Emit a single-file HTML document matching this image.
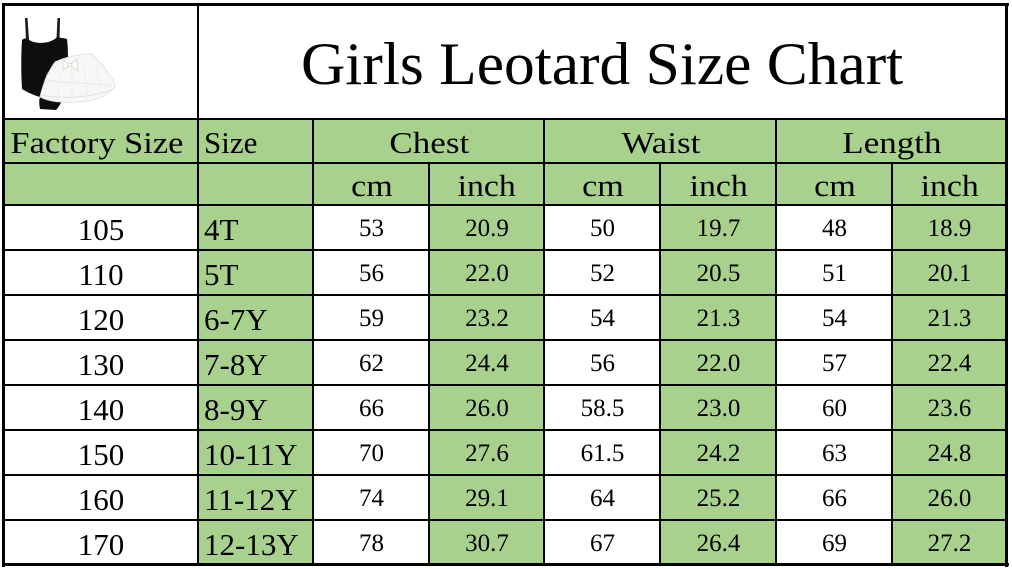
<!DOCTYPE html>
<html>
<head>
<meta charset="utf-8">
<style>
  html,body{margin:0;padding:0;background:#fff;}
  body{width:1012px;height:569px;position:relative;overflow:hidden;font-family:"Liberation Serif","DejaVu Serif",serif;color:#000;}
  .bg{position:absolute;background:#A9D18E;}
  .ln{position:absolute;background:#000;}
  .t{position:absolute;white-space:nowrap;text-align:center;}
  .t span{display:inline-block;}
  .big{font-size:31px;line-height:45px;height:45px;}
  .num{font-size:25px;line-height:45px;height:45px;}
  .hd{font-size:31px;}
</style>
</head>
<body>
<!-- green backgrounds -->
<div class="bg" style="left:3px;top:119px;width:1003px;height:86px;"></div>
<div class="bg" style="left:198px;top:205px;width:115px;height:360px;"></div>
<div class="bg" style="left:429px;top:205px;width:115px;height:360px;"></div>
<div class="bg" style="left:660px;top:205px;width:116px;height:360px;"></div>
<div class="bg" style="left:892px;top:205px;width:114px;height:360px;"></div>

<!-- image (leotard + tutu) -->
<svg style="position:absolute;left:0;top:0;" width="130" height="120" viewBox="0 0 130 120">
  <!-- straps -->
  <path d="M25,18 L27.5,18 L29,40 L26,40 Z" fill="#1a1a1a"/>
  <path d="M57.5,18 L60,18 L59.5,39 L56.5,39 Z" fill="#1a1a1a"/>
  <!-- leotard body -->
  <path d="M22,40 C24,38 27,38 28,39 C33,44 50,45 57,37 C61,38 64,38 67,39 C68,48 68,56 68,62 L62,100 C60,105 58,108 56,110 L40,109 C39,104 39,100 40,97 C33,95 27,92 22,89 C21,72 21,56 22,40 Z" fill="#0e0e0e"/>
  <!-- tutu -->
  <path d="M55,62 C65,57 80,54 92,54 C100,62 109,72 115,84 C115,87 114,89 112,90 C106,96 96,100 86,101 C78,102 70,103 62,102 C54,102 46,100 40,97 C42,88 45,80 47,75 C50,70 52,66 55,62 Z" fill="#f7f7f7" stroke="#dcdcdc" stroke-width="0.8"/>
  <path d="M47,80 C62,84 90,82 112,86" stroke="#e6e6e6" stroke-width="1" fill="none"/>
  <path d="M42,95 C60,99 90,98 112,90" stroke="#e0e0e0" stroke-width="1" fill="none"/>
  <path d="M60,70 L58,96 M72,68 L72,99 M84,66 L88,99 M96,64 L102,94" stroke="#eeeeee" stroke-width="1" fill="none"/>
  <!-- bow -->
  <path d="M63,60 L70,65 L63,70 Z M77,59 L70,65 L78,71 Z" fill="#fdfdf6" stroke="#cfcfc4" stroke-width="0.7"/>
  <circle cx="70" cy="65" r="2" fill="#fff" stroke="#c8c8bd" stroke-width="0.7"/>
</svg>

<!-- lines: outer border -->
<div class="ln" style="left:2px;top:3px;width:3px;height:564px;"></div>
<div class="ln" style="left:2px;top:3px;width:1007px;height:3px;"></div>
<div class="ln" style="left:1005px;top:3px;width:3px;height:564px;"></div>
<div class="ln" style="left:2px;top:563px;width:1007px;height:3px;"></div>

<!-- horizontal lines -->
<div class="ln" style="left:3px;top:118px;width:1004px;height:2px;"></div>
<div class="ln" style="left:3px;top:162px;width:1004px;height:2px;"></div>
<div class="ln" style="left:3px;top:204px;width:1004px;height:2px;"></div>
<div class="ln" style="left:3px;top:249px;width:1004px;height:2px;"></div>
<div class="ln" style="left:3px;top:294px;width:1004px;height:2px;"></div>
<div class="ln" style="left:3px;top:339px;width:1004px;height:2px;"></div>
<div class="ln" style="left:3px;top:384px;width:1004px;height:2px;"></div>
<div class="ln" style="left:3px;top:429px;width:1004px;height:2px;"></div>
<div class="ln" style="left:3px;top:474px;width:1004px;height:2px;"></div>
<div class="ln" style="left:3px;top:519px;width:1004px;height:2px;"></div>

<!-- vertical lines -->
<div class="ln" style="left:197px;top:4px;width:2px;height:561px;"></div>
<div class="ln" style="left:312px;top:119px;width:2px;height:446px;"></div>
<div class="ln" style="left:428px;top:162px;width:2px;height:403px;"></div>
<div class="ln" style="left:543px;top:119px;width:2px;height:446px;"></div>
<div class="ln" style="left:659px;top:162px;width:2px;height:403px;"></div>
<div class="ln" style="left:775px;top:119px;width:2px;height:446px;"></div>
<div class="ln" style="left:891px;top:162px;width:2px;height:403px;"></div>

<!-- title -->
<div class="t" style="left:199px;width:806px;top:8px;height:112px;line-height:112px;font-size:60px;"><span style="transform:scaleX(1.024);">Girls Leotard Size Chart</span></div>

<!-- header row 1 -->
<div class="t hd" style="left:0px;width:193px;top:122px;line-height:42px;height:42px;"><span style="transform:scaleX(1.11);">Factory Size</span></div>
<div class="t hd" style="left:204px;width:108px;top:122px;line-height:42px;height:42px;text-align:left;"><span>Size</span></div>
<div class="t hd" style="left:314px;width:230px;top:122px;line-height:42px;height:42px;"><span style="transform:scaleX(1.13);">Chest</span></div>
<div class="t hd" style="left:545px;width:231px;top:122px;line-height:42px;height:42px;"><span style="transform:scaleX(1.13);">Waist</span></div>
<div class="t hd" style="left:777px;width:229px;top:122px;line-height:42px;height:42px;"><span style="transform:scaleX(1.13);">Length</span></div>

<!-- header row 2 -->
<div class="t hd" style="left:314px;width:115px;top:164px;line-height:43px;height:43px;"><span style="transform:scaleX(1.1);">cm</span></div>
<div class="t hd" style="left:430px;width:114px;top:164px;line-height:43px;height:43px;"><span style="transform:scaleX(1.09);">inch</span></div>
<div class="t hd" style="left:545px;width:115px;top:164px;line-height:43px;height:43px;"><span style="transform:scaleX(1.1);">cm</span></div>
<div class="t hd" style="left:661px;width:115px;top:164px;line-height:43px;height:43px;"><span style="transform:scaleX(1.09);">inch</span></div>
<div class="t hd" style="left:777px;width:115px;top:164px;line-height:43px;height:43px;"><span style="transform:scaleX(1.1);">cm</span></div>
<div class="t hd" style="left:893px;width:113px;top:164px;line-height:43px;height:43px;"><span style="transform:scaleX(1.09);">inch</span></div>

<!-- data rows -->
<div class="t big" style="left:5px;width:192px;top:207px;">105</div>
<div class="t big" style="left:204px;top:207px;text-align:left;">4T</div>
<div class="t num" style="left:314px;width:115px;top:206px;">53</div>
<div class="t num" style="left:430px;width:114px;top:206px;">20.9</div>
<div class="t num" style="left:545px;width:115px;top:206px;">50</div>
<div class="t num" style="left:661px;width:115px;top:206px;">19.7</div>
<div class="t num" style="left:777px;width:115px;top:206px;">48</div>
<div class="t num" style="left:893px;width:113px;top:206px;">18.9</div>

<div class="t big" style="left:5px;width:192px;top:252px;">110</div>
<div class="t big" style="left:204px;top:252px;text-align:left;">5T</div>
<div class="t num" style="left:314px;width:115px;top:251px;">56</div>
<div class="t num" style="left:430px;width:114px;top:251px;">22.0</div>
<div class="t num" style="left:545px;width:115px;top:251px;">52</div>
<div class="t num" style="left:661px;width:115px;top:251px;">20.5</div>
<div class="t num" style="left:777px;width:115px;top:251px;">51</div>
<div class="t num" style="left:893px;width:113px;top:251px;">20.1</div>

<div class="t big" style="left:5px;width:192px;top:297px;">120</div>
<div class="t big" style="left:204px;top:297px;text-align:left;">6-7Y</div>
<div class="t num" style="left:314px;width:115px;top:296px;">59</div>
<div class="t num" style="left:430px;width:114px;top:296px;">23.2</div>
<div class="t num" style="left:545px;width:115px;top:296px;">54</div>
<div class="t num" style="left:661px;width:115px;top:296px;">21.3</div>
<div class="t num" style="left:777px;width:115px;top:296px;">54</div>
<div class="t num" style="left:893px;width:113px;top:296px;">21.3</div>

<div class="t big" style="left:5px;width:192px;top:342px;">130</div>
<div class="t big" style="left:204px;top:342px;text-align:left;">7-8Y</div>
<div class="t num" style="left:314px;width:115px;top:341px;">62</div>
<div class="t num" style="left:430px;width:114px;top:341px;">24.4</div>
<div class="t num" style="left:545px;width:115px;top:341px;">56</div>
<div class="t num" style="left:661px;width:115px;top:341px;">22.0</div>
<div class="t num" style="left:777px;width:115px;top:341px;">57</div>
<div class="t num" style="left:893px;width:113px;top:341px;">22.4</div>

<div class="t big" style="left:5px;width:192px;top:387px;">140</div>
<div class="t big" style="left:204px;top:387px;text-align:left;">8-9Y</div>
<div class="t num" style="left:314px;width:115px;top:386px;">66</div>
<div class="t num" style="left:430px;width:114px;top:386px;">26.0</div>
<div class="t num" style="left:545px;width:115px;top:386px;">58.5</div>
<div class="t num" style="left:661px;width:115px;top:386px;">23.0</div>
<div class="t num" style="left:777px;width:115px;top:386px;">60</div>
<div class="t num" style="left:893px;width:113px;top:386px;">23.6</div>

<div class="t big" style="left:5px;width:192px;top:432px;">150</div>
<div class="t big" style="left:204px;top:432px;text-align:left;">10-11Y</div>
<div class="t num" style="left:314px;width:115px;top:431px;">70</div>
<div class="t num" style="left:430px;width:114px;top:431px;">27.6</div>
<div class="t num" style="left:545px;width:115px;top:431px;">61.5</div>
<div class="t num" style="left:661px;width:115px;top:431px;">24.2</div>
<div class="t num" style="left:777px;width:115px;top:431px;">63</div>
<div class="t num" style="left:893px;width:113px;top:431px;">24.8</div>

<div class="t big" style="left:5px;width:192px;top:477px;">160</div>
<div class="t big" style="left:204px;top:477px;text-align:left;">11-12Y</div>
<div class="t num" style="left:314px;width:115px;top:476px;">74</div>
<div class="t num" style="left:430px;width:114px;top:476px;">29.1</div>
<div class="t num" style="left:545px;width:115px;top:476px;">64</div>
<div class="t num" style="left:661px;width:115px;top:476px;">25.2</div>
<div class="t num" style="left:777px;width:115px;top:476px;">66</div>
<div class="t num" style="left:893px;width:113px;top:476px;">26.0</div>

<div class="t big" style="left:5px;width:192px;top:522px;">170</div>
<div class="t big" style="left:204px;top:522px;text-align:left;">12-13Y</div>
<div class="t num" style="left:314px;width:115px;top:521px;">78</div>
<div class="t num" style="left:430px;width:114px;top:521px;">30.7</div>
<div class="t num" style="left:545px;width:115px;top:521px;">67</div>
<div class="t num" style="left:661px;width:115px;top:521px;">26.4</div>
<div class="t num" style="left:777px;width:115px;top:521px;">69</div>
<div class="t num" style="left:893px;width:113px;top:521px;">27.2</div>
</body>
</html>
